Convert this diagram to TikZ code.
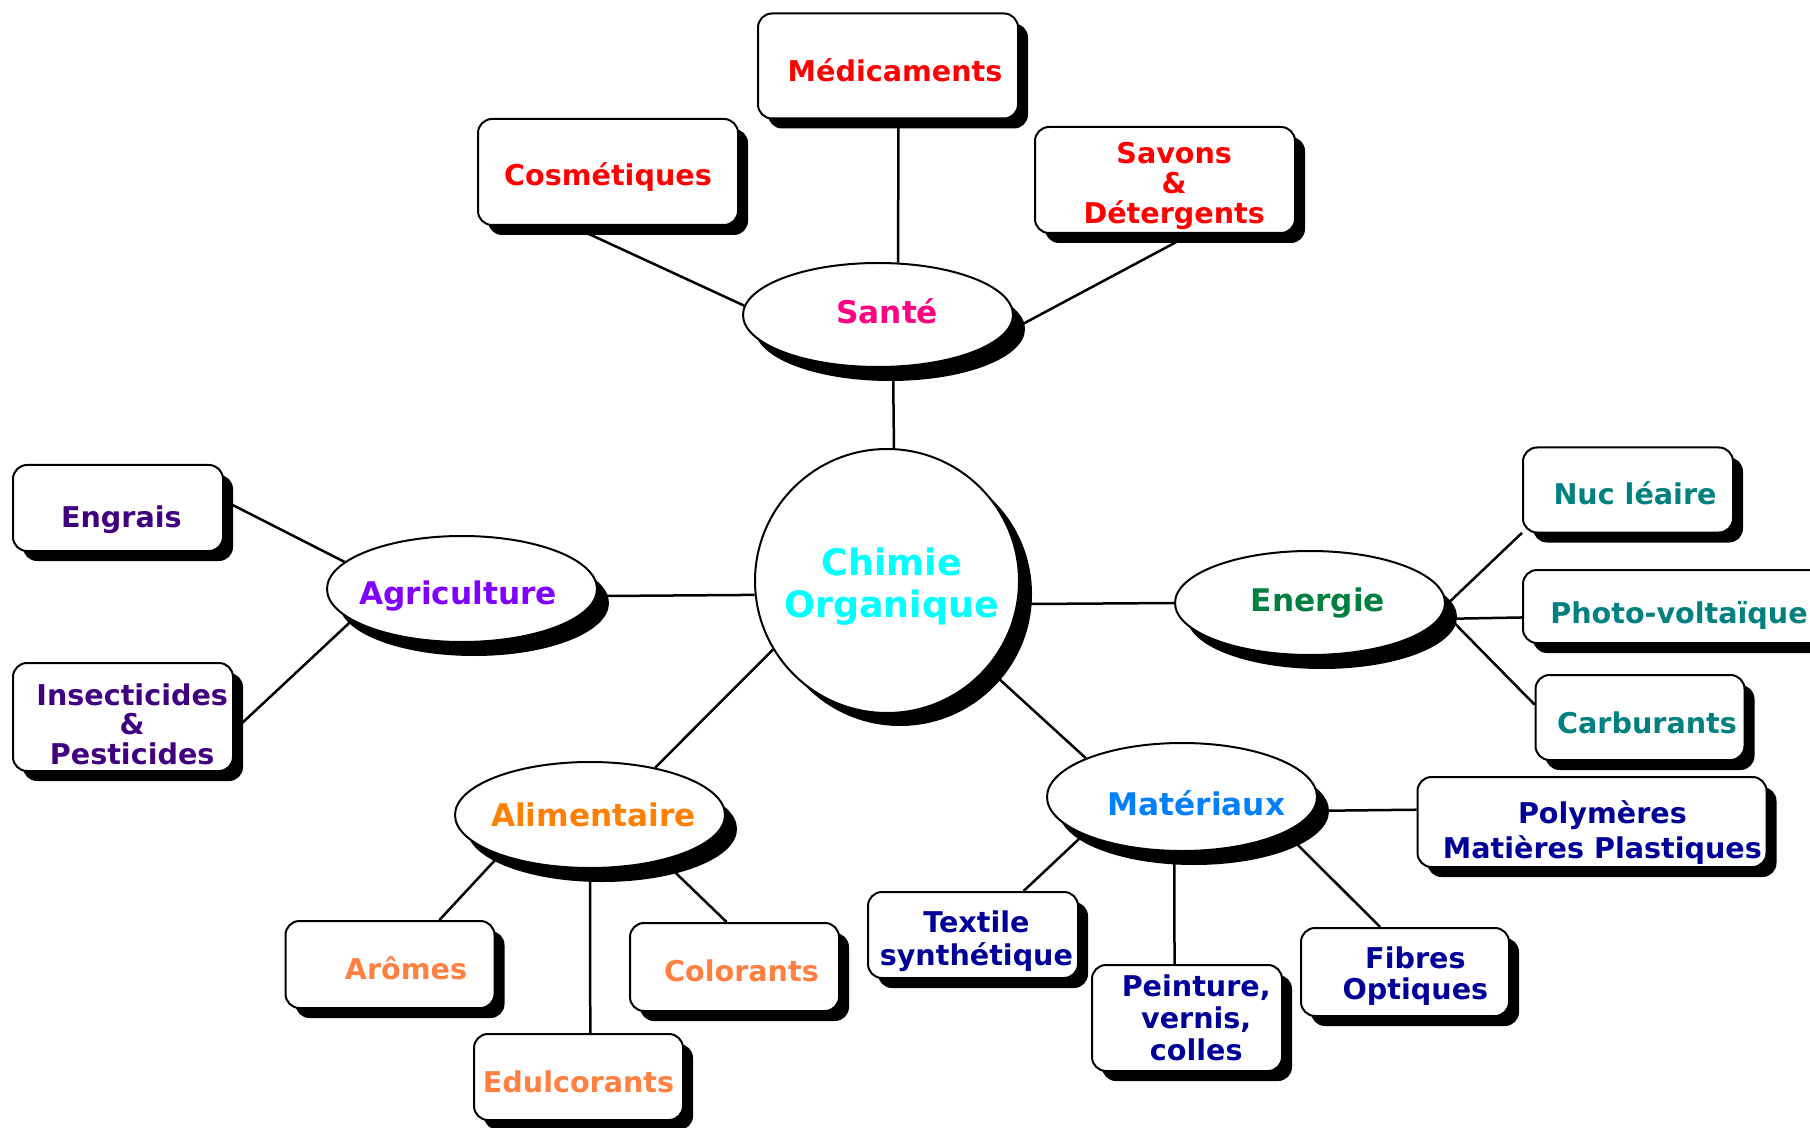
\documentclass[tikz,border=0pt]{standalone}
\usepackage{fontspec}
\setmainfont{DejaVu Sans}
\usetikzlibrary{shapes.geometric,shadows,backgrounds}
\definecolor{cred}{RGB}{255,0,0}
\definecolor{csante}{RGB}{255,0,128}
\definecolor{cchim}{RGB}{0,255,255}
\definecolor{cagri}{RGB}{128,0,255}
\definecolor{cagrisub}{RGB}{64,0,128}
\definecolor{cener}{RGB}{0,128,64}
\definecolor{cenersub}{RGB}{0,128,128}
\definecolor{cmat}{RGB}{0,128,255}
\definecolor{cmatsub}{RGB}{0,0,153}
\definecolor{calim}{RGB}{255,128,0}
\definecolor{calimsub}{RGB}{255,128,64}
\newcommand{\bxfont}[1]{\fontsize{14.3pt}{#1}\selectfont\bfseries}
\tikzset{
  bx/.style={draw, line width=1pt, rounded corners=7pt, fill=white,
    inner sep=0pt,
    drop shadow={shadow xshift=5pt, shadow yshift=-5pt, fill=black, opacity=1}},
  ell/.style={ellipse, draw, line width=1pt, fill=white, inner sep=0pt,
    minimum width=135pt, minimum height=52pt,
    drop shadow={shadow xshift=6pt, shadow yshift=-7pt, fill=black, opacity=1}},
  bt/.style={align=center, inner sep=0pt, font=\bxfont{15.5pt}},
  et/.style={align=center, inner sep=0pt, font=\fontsize{15.6pt}{17pt}\selectfont\bfseries},
  conn/.style={line width=1.25pt}
}
\begin{document}
\begin{tikzpicture}[x=0.5pt,y=-0.5pt]
\useasboundingbox (0,0) rectangle (1810,1128);
% centre
\node[circle, draw, line width=1pt, fill=white, minimum size=132pt, inner sep=0pt,
  drop shadow={shadow xshift=6.5pt, shadow yshift=-6.5pt, fill=black, opacity=1},
  label={[align=center, inner sep=0pt, text=cchim, font=\fontsize{18.2pt}{21pt}\selectfont\bfseries, xshift=2.3pt, yshift=-2.9pt]center:{Chimie\\Organique}}]
  (chim) at (887,581) {};
% ellipses
\node[ell, label={[et, text=csante, xshift=4.6pt, yshift=1.7pt]center:Santé}] (sante) at (878,315) {};
\node[ell, minimum height=53pt, label={[et, text=cagri, xshift=-2pt, yshift=-3.5pt]center:Agriculture}] (agri) at (462,589) {};
\node[ell, label={[et, text=cener, xshift=4pt]center:Energie}] (ener) at (1310,603) {};
\node[ell, minimum height=54pt, label={[et, text=cmat, xshift=7.2pt, yshift=-2.9pt]center:Matériaux}] (mat) at (1182,797) {};
\node[ell, minimum height=53pt, label={[et, text=calim, xshift=1.7pt]center:Alimentaire}] (alim) at (590,815) {};
% Santé
\node[bx, minimum width=130pt, minimum height=52.5pt, label={[bt, text=cred, xshift=3.5pt, yshift=-2.3pt]center:Médicaments}] (med) at (888,66) {};
\node[bx, minimum width=130pt, minimum height=53pt, label={[bt, text=cred, yshift=-2.3pt]center:Cosmétiques}] (cos) at (608,172) {};
\node[bx, minimum width=130pt, minimum height=53pt, label={[bt, font=\bxfont{15pt}, text=cred, xshift=4.6pt, yshift=-2.9pt]center:{Savons\\\&\\Détergents}}] (sav) at (1165,180) {};
% Agriculture
\node[bx, minimum width=105pt, minimum height=43pt, label={[bt, text=cagrisub, xshift=1.7pt, yshift=-5.8pt]center:Engrais}] (engrais) at (118,508) {};
\node[bx, minimum width=110pt, minimum height=54pt, label={[bt, font=\bxfont{14.75pt}, text=cagrisub, xshift=4.6pt, yshift=-3.5pt]center:{Insecticides\\\&\\Pesticides}}] (insect) at (123,717) {};
% Energie
\node[bx, minimum width=105pt, minimum height=42.5pt, label={[bt, text=cenersub, xshift=3.5pt, yshift=-1.7pt]center:Nuc léaire}] (nuc) at (1628,490) {};
\node[bx, minimum width=156pt, minimum height=36.5pt, label={[bt, text=cenersub, yshift=-4.6pt]center:Photo-voltaïque}] (photo) at (1679,606.5) {};
\node[bx, minimum width=104.5pt, minimum height=42.5pt, label={[bt, text=cenersub, xshift=3.5pt, yshift=-2.9pt]center:Carburants}] (carb) at (1640,717.5) {};
% Matériaux
\node[bx, minimum width=174.5pt, minimum height=45pt, label={[bt, font=\bxfont{17.5pt}, text=cmatsub, xshift=5.2pt, yshift=-5.2pt]center:{Polymères\\Matières Plastiques}}] (poly) at (1592,822) {};
\node[bx, minimum width=105pt, minimum height=43pt, label={[bt, font=\bxfont{16.5pt}, text=cmatsub, xshift=1.7pt, yshift=-3.2pt]center:{Textile\\synthétique}}] (tex) at (973,935) {};
\node[bx, minimum width=95pt, minimum height=53pt, label={[bt, font=\bxfont{16pt}, text=cmatsub, xshift=4.6pt]center:{Peinture,\\vernis,\\colles}}] (pein) at (1187,1018) {};
\node[bx, minimum width=104pt, minimum height=44pt, label={[bt, text=cmatsub, xshift=5.2pt, yshift=-2.3pt]center:{Fibres\\Optiques}}] (fib) at (1405,972) {};
% Alimentaire
\node[bx, minimum width=104.5pt, minimum height=43.5pt, label={[bt, text=calimsub, xshift=8pt, yshift=-1.7pt]center:Arômes}] (arom) at (390,964.5) {};
\node[bx, minimum width=104.5pt, minimum height=44pt, label={[bt, text=calimsub, xshift=3.5pt, yshift=-1.7pt]center:Colorants}] (color) at (734.5,967) {};
\node[bx, minimum width=104.5pt, minimum height=43pt, label={[bt, text=calimsub, yshift=-2.3pt]center:Edulcorants}] (edul) at (578.5,1077) {};
\begin{scope}[on background layer]
\fill[white] (0,0) rectangle (1810,1128);
\draw[conn] (cos.-124.5) -- (sante.176);
\draw[conn] (med.-79) -- (sante.69);
\draw[conn] (sav.-64) -- (sante.-8);
\draw[conn] (sante.-74) -- (chim.87);
\draw[conn] (agri.-3) -- (chim.186.5);
\draw[conn] (engrais.4.7) -- (agri.167);
\draw[conn] (insect.-7.7) -- (agri.196);
\draw[conn] (chim.-10) -- (ener.180);
\draw[conn] (ener.-1) -- (nuc.202);
\draw[conn] (ener.-7.6) -- (photo.184.9);
\draw[conn] (ener.-4.7) -- (carb.173.7);
\draw[conn] (chim.-41) -- (mat.158);
\draw[conn] (mat.-6.1) -- (poly.176.4);
\draw[conn] (mat.201) -- (tex.41.3);
\draw[conn] (mat.-98.4) -- (pein.103.8);
\draw[conn] (mat.-19.4) -- (fib.119.6);
\draw[conn] (chim.211) -- (alim.36.7);
\draw[conn] (alim.204.8) -- (arom.42.7);
\draw[conn] (alim.south) -- (edul.75);
\draw[conn] (alim.-32.4) -- (color.100);
\end{scope}
\end{tikzpicture}
\end{document}
